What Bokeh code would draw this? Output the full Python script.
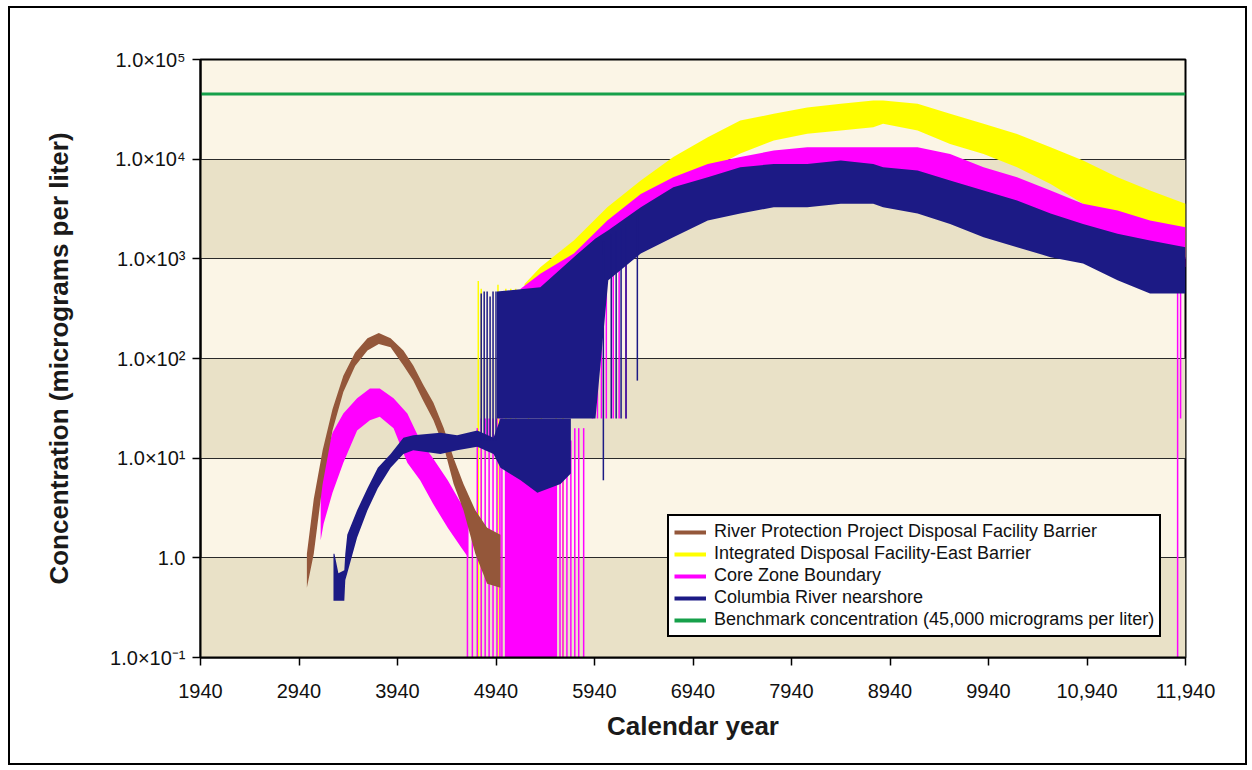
from bokeh.plotting import figure
from bokeh.models import FixedTicker, Legend, LegendItem
from bokeh.embed import file_html
from bokeh.resources import INLINE

# ---------------- data ----------------
# River Protection Project Disposal Facility Barrier (envelope of the noisy trace)
rpp_year = [3020, 3090, 3180, 3280, 3390, 3510, 3635, 3750, 3870, 4000, 4100,
            4200, 4305, 4410, 4510, 4610, 4730, 4850, 4985]
rpp_lo = [0.5, 1.1, 5.5, 19, 46, 84, 120, 140, 130, 85, 60, 38, 24, 13, 5.5, 3, 1.1, 0.55, 0.5]
rpp_hi = [1.1, 3.9, 12, 31, 67, 115, 160, 180, 160, 120, 85, 55, 36, 20, 10, 5.5, 3, 2, 1.7]

# Integrated Disposal Facility-East Barrier
idf_year = [5230, 5390, 5730, 6070, 6410, 6740, 7090, 7420, 7760, 8100, 8440, 8770,
            8870, 9220, 9550, 9890, 10230, 10570, 10900, 11250, 11580, 11940]
idf_lo = [470, 480, 900, 1530, 2850, 4850, 7700, 11400, 15400, 18000, 19400, 20900,
          22700, 19400, 14200, 11300, 8300, 5650, 3560, 2430, 1650, 1040]
idf_hi = [560, 825, 1530, 3300, 6100, 10500, 16600, 24400, 28500, 33000, 35900, 38800,
          38800, 35900, 28500, 22700, 17900, 13200, 9700, 6600, 4860, 3560]
idf_spike_year = [4760, 4790, 4960, 5040, 5090, 5140, 5270, 5400, 5550, 5620]
idf_spike_lo = [0.09] * 10
idf_spike_hi = [600, 500, 550, 500, 500, 500, 560, 700, 900, 1000]

# Core Zone Boundary
cz_year = [3160, 3190, 3280, 3390, 3530, 3660, 3760, 3900, 4040, 4170, 4300, 4450, 4580, 4660]
cz_lo = [1.5, 2.2, 4.5, 9, 19, 24, 26, 20, 9, 6, 3.5, 2, 1.3, 1.0]
cz_hi = [6, 9, 18, 28, 40, 50, 50, 40, 28, 15, 10, 6, 3.6, 3.0]
cz2_year = [5190, 5390, 5730, 6070, 6410, 6740, 7090, 7420, 7760, 8100, 8440, 8770,
            9220, 9550, 9890, 10230, 10570, 10900, 11250, 11580, 11940]
cz2_lo = [450, 450, 610, 830, 1930, 2850, 3850, 4850, 5650, 6100, 6100, 6600,
          6100, 4850, 3560, 2430, 1650, 1310, 1120, 1040, 830]
cz2_hi = [500, 710, 1130, 2420, 4480, 6600, 8950, 10500, 12200, 13200, 13200, 13200,
          13200, 11300, 8300, 6600, 4850, 3560, 3050, 2430, 2080]
cz_fill_year = [5030, 5560]
cz_fill_lo = [0.09, 0.09]
cz_fill_hi = [15, 12]
cz_spike_year = [4650, 4700, 4750, 4790, 4830, 4870, 4910, 4950, 4980, 5000,
                 5590, 5620, 5660, 5700, 5740, 5780, 5830,
                 5920, 5970, 6010, 6060, 6130, 6190, 6260,
                 11860, 11890]
cz_spike_lo = [0.09] * 17 + [25] * 7 + [0.09, 25]
cz_spike_hi = [2.5, 2.5, 20, 25, 25, 25, 25, 25, 25, 25,
               12, 12, 12, 15, 20, 20, 20,
               1500, 1700, 2000, 2200, 2500, 2800, 3000,
               1800, 1800]

# Columbia River nearshore
cr_year = [3290, 3300, 3340, 3400, 3410, 3430, 3530, 3635, 3740, 3870, 4000, 4100,
           4376, 4545, 4750, 4915, 4985, 5190, 5360, 5595, 5700]
cr_lo = [0.37, 0.37, 0.37, 0.37, 0.6, 0.7, 1.6, 3.0, 5.0, 8.0, 11, 12,
         11, 12, 13, 11, 8, 6, 4.5, 5.5, 7]
cr_hi = [1.1, 1.1, 0.7, 0.75, 1.1, 1.7, 3.0, 5.0, 8.0, 11, 16, 17,
         18, 17, 19, 16, 25, 25, 25, 25, 25]
cr2_year = [4950, 5390, 5730, 5950, 6080, 6410, 6740, 7090, 7420, 7760, 8100, 8440,
            8770, 8870, 9220, 9550, 9890, 10230, 10570, 10900, 11250, 11580, 11940]
cr2_lo = [25, 25, 25, 25, 610, 1130, 1650, 2430, 2850, 3300, 3300, 3560,
          3560, 3300, 2850, 2240, 1650, 1310, 1040, 900, 610, 450, 450]
cr2_hi = [470, 520, 1040, 1600, 1930, 3300, 5230, 6600, 8300, 8950, 8950, 9700,
          8950, 8300, 7700, 6100, 4850, 3850, 2850, 2240, 1780, 1530, 1310]
cr_spike_year = [4790, 4820, 4850, 4880, 4910, 4940, 6030, 6110, 6160, 6210, 6260, 6375]
cr_spike_lo = [15, 15, 15, 15, 15, 15, 6, 25, 25, 25, 25, 60]
cr_spike_hi = [450, 470, 470, 420, 470, 470, 1500, 1800, 1900, 2000, 2200, 2800]

# Benchmark
bench_year = [1940, 11940]
bench_value = [45000, 45000]

x_ticks = [1940, 2940, 3940, 4940, 5940, 6940, 7940, 8940, 9940, 10940, 11940]
x_labels = ["1940", "2940", "3940", "4940", "5940", "6940", "7940", "8940", "9940", "10,940", "11,940"]
y_ticks = [0.1, 1, 10, 100, 1000, 10000, 100000]
y_labels = ["1.0×10⁻¹", "1.0", "1.0×10¹", "1.0×10²", "1.0×10³", "1.0×10⁴", "1.0×10⁵"]

series_names = ["River Protection Project Disposal Facility Barrier",
                "Integrated Disposal Facility-East Barrier",
                "Core Zone Boundary",
                "Columbia River nearshore",
                "Benchmark concentration (45,000 micrograms per liter)"]

# ---------------- styling ----------------
FONT = "Liberation Sans"
BROWN = "#94573A"
YELLOW = "#FFFF00"
PINK = "#FF00FF"
BLUE = "#1C1A85"
GREEN = "#16A04A"
LIGHT = "#FBF5E6"
TAN = "#E9E1C7"

p = figure(frame_width=985, frame_height=598,
           min_border_left=190, min_border_right=60, min_border_top=51, min_border_bottom=106,
           x_range=(x_ticks[0], x_ticks[-1]), y_range=(y_ticks[0], y_ticks[-1]),
           y_axis_type="log", output_backend="svg", toolbar_location=None)
p.styles = {"border": "2px solid black", "margin-left": "8px", "margin-top": "6px"}

p.background_fill_color = LIGHT
p.border_fill_color = "white"
p.outline_line_color = "black"
p.outline_line_width = 2
p.outline_line_alpha = 1

# alternating tan bands between decades
p.quad(left=x_ticks[0], right=x_ticks[-1], bottom=y_ticks[0:6:2], top=y_ticks[1:7:2],
       fill_color=TAN, line_color=None, level="image")

# series
p.varea(x=idf_year, y1=idf_lo, y2=idf_hi, fill_color=YELLOW)
p.segment(x0=idf_spike_year, y0=idf_spike_lo, x1=idf_spike_year, y1=idf_spike_hi,
          line_color=YELLOW, line_width=1.5)
p.varea(x=cz_year, y1=cz_lo, y2=cz_hi, fill_color=PINK)
p.varea(x=cz_fill_year, y1=cz_fill_lo, y2=cz_fill_hi, fill_color=PINK)
p.segment(x0=cz_spike_year, y0=cz_spike_lo, x1=cz_spike_year, y1=cz_spike_hi,
          line_color=PINK, line_width=1.5)
p.varea(x=cz2_year, y1=cz2_lo, y2=cz2_hi, fill_color=PINK)
p.varea(x=rpp_year, y1=rpp_lo, y2=rpp_hi, fill_color=BROWN)
p.varea(x=cr_year, y1=cr_lo, y2=cr_hi, fill_color=BLUE)
p.varea(x=cr2_year, y1=cr2_lo, y2=cr2_hi, fill_color=BLUE)
p.segment(x0=cr_spike_year, y0=cr_spike_lo, x1=cr_spike_year, y1=cr_spike_hi,
          line_color=BLUE, line_width=1.5)
p.line(x=bench_year, y=bench_value, line_color=GREEN, line_width=3)

# legend proxies: zero-length lines at each series' first point (draw nothing in the plot)
proxies = []
for c, xs, ys in [(BROWN, rpp_year, rpp_lo), (YELLOW, idf_year, idf_lo), (PINK, cz_year, cz_lo),
                  (BLUE, cr_year, cr_lo), (GREEN, bench_year, bench_value)]:
    proxies.append(p.line(x=[xs[0], xs[0]], y=[ys[0], ys[0]], line_color=c, line_width=4,
                          line_cap="butt"))

legend = Legend(items=[LegendItem(label=n, renderers=[r]) for n, r in zip(series_names, proxies)],
                location=(467, 20))
legend.background_fill_color = "white"
legend.background_fill_alpha = 1
legend.border_line_color = "black"
legend.border_line_alpha = 1
legend.border_line_width = 2
legend.label_text_font = FONT
legend.label_text_font_size = "18px"
legend.label_text_color = "#111111"
legend.glyph_width = 32
legend.glyph_height = 20
legend.label_height = 20
legend.spacing = 1
legend.padding = 5
legend.margin = 0
legend.label_standoff = 8
p.add_layout(legend)

# grid
p.xgrid.visible = False
p.ygrid.ticker = FixedTicker(ticks=y_ticks)
p.ygrid.grid_line_color = "#2a2a2a"
p.ygrid.grid_line_width = 1
p.ygrid.grid_line_alpha = 1

# axes
p.xaxis.ticker = FixedTicker(ticks=x_ticks)
p.xaxis.major_label_overrides = dict(zip(x_ticks, x_labels))
p.yaxis.ticker = FixedTicker(ticks=y_ticks)
p.yaxis.major_label_overrides = dict(zip(y_ticks, y_labels))
for ax in [p.xaxis[0], p.yaxis[0]]:
    ax.axis_line_color = "black"
    ax.axis_line_width = 2
    ax.major_tick_line_color = "black"
    ax.major_tick_line_width = 1.5
    ax.major_tick_out = 8
    ax.major_tick_in = 0
    ax.minor_tick_line_color = None
    ax.major_label_text_font = FONT
    ax.major_label_text_font_size = "20px"
    ax.major_label_text_color = "#111111"
    ax.axis_label_text_font = FONT
    ax.axis_label_text_font_size = "26px"
    ax.axis_label_text_font_style = "bold"
    ax.axis_label_text_color = "#1a1a1a"

p.xaxis.axis_label = "Calendar year"
p.xaxis.major_label_standoff = 18
p.xaxis.axis_label_standoff = 10
p.yaxis.axis_label = "Concentration (micrograms per liter)"
p.yaxis.major_label_standoff = 7
p.yaxis.axis_label_standoff = 33

open("out.html", "w").write(file_html(p, INLINE))
